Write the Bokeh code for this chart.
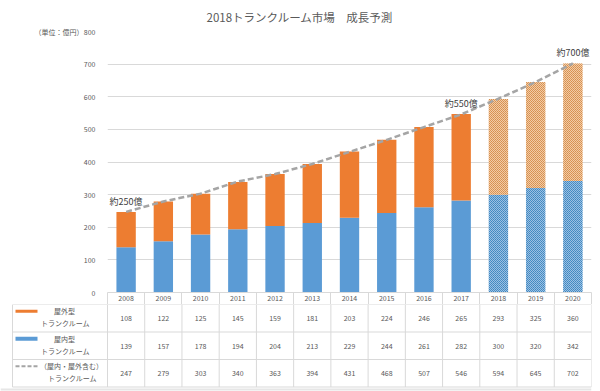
from bokeh.plotting import figure
from bokeh.models import Range1d, FixedTicker, LinearAxis, ColumnDataSource
from bokeh.layouts import column
from bokeh.embed import file_html
from bokeh.resources import INLINE
from bokeh.core.properties import value

# ---------------- data ----------------
years = ["2008", "2009", "2010", "2011", "2012", "2013", "2014",
         "2015", "2016", "2017", "2018", "2019", "2020"]
outdoor = [108, 122, 125, 145, 159, 181, 203, 224, 246, 265, 293, 325, 360]
indoor = [139, 157, 178, 194, 204, 213, 229, 244, 261, 282, 300, 320, 342]
total = [247, 279, 303, 340, 363, 394, 431, 468, 507, 546, 594, 645, 702]
first_forecast_year = "2018"
y_ticks = [0, 100, 200, 300, 400, 500, 600, 700, 800]
callout_years = ["2008", "2017", "2020"]
callout_texts = ["約250億", "約550億", "約700億"]
row_label_line1 = ["屋外型", "屋内型", "（屋内・屋外含む）"]
row_label_line2 = ["トランクルーム", "トランクルーム", "トランクルーム"]
title_text = "2018トランクルーム市場　成長予測"
unit_text = "（単位：億円）"

# ---------------- style ----------------
FONT = "Noto Sans CJK JP"
TXT = "#595959"
GRID = "#D9D9D9"
ORANGE = "#ED7D31"
BLUE = "#5B9BD5"

n = len(years)
xs = list(range(n))
stack_top = [a + b for a, b in zip(indoor, outdoor)]
fc = [y >= first_forecast_year for y in years]

ORIGIN = 0                     # page offset of the figures
FIG_W = 592
PX_L, PX_R = 107, 591          # chart frame in page px
UNIT = (PX_R - PX_L) / n       # px per category
BL = PX_L - ORIGIN
BR = FIG_W - (PX_R - ORIGIN)

def sub(lst, flag):
    return [v for v, f in zip(lst, fc) if f == flag]

src_a = ColumnDataSource(dict(x=sub(xs, False), ind=sub(indoor, False), top=sub(stack_top, False)))
src_f = ColumnDataSource(dict(x=sub(xs, True), ind=sub(indoor, True), top=sub(stack_top, True)))

p = figure(width=FIG_W, height=304, x_range=Range1d(-0.5, n - 0.5), y_range=Range1d(0, 800),
           min_border_left=BL, min_border_right=BR, min_border_top=31, min_border_bottom=12,
           output_backend="svg", toolbar_location=None, title=title_text)
p.frame_align = False
p.outline_line_color = None
p.xgrid.visible = False
p.ygrid.grid_line_color = GRID
p.ygrid.ticker = FixedTicker(ticks=y_ticks)

p.title.align = "left"
p.title.offset = 206 - PX_L
p.title.text_font = FONT
p.title.text_font_size = "11.5px"
p.title.text_font_style = "normal"
p.title.text_color = TXT
p.title.standoff = 13

ya = p.yaxis[0]
ya.ticker = FixedTicker(ticks=y_ticks)
ya.axis_line_color = None
ya.major_tick_line_color = None
ya.minor_tick_line_color = None
ya.major_label_text_font = FONT
ya.major_label_text_font_size = "7px"
ya.major_label_text_color = TXT
ya.major_label_standoff = 6

ua = LinearAxis(ticker=FixedTicker(ticks=[y_ticks[-1]]),
                major_label_overrides={y_ticks[-1]: unit_text})
ua.axis_line_color = None
ua.major_tick_line_color = None
ua.minor_tick_line_color = None
ua.major_label_text_font = FONT
ua.major_label_text_font_size = "7px"
ua.major_label_text_color = TXT
ua.major_label_standoff = -9
p.add_layout(ua, "left")

xa = p.xaxis[0]
xa.ticker = FixedTicker(ticks=xs, minor_ticks=[x - 0.5 for x in xs] + [n - 0.5])
xa.major_label_overrides = {i: y for i, y in enumerate(years)}
xa.major_tick_out = 0
xa.major_tick_in = 0
xa.minor_tick_in = 0
xa.minor_tick_out = 12
xa.minor_tick_line_color = GRID
xa.axis_line_color = GRID
xa.major_label_text_font = FONT
xa.major_label_text_font_size = "7px"
xa.major_label_text_color = TXT
xa.major_label_standoff = -10

BW = 0.52
p.vbar(x="x", width=BW, bottom=0, top="ind", source=src_a, fill_color=BLUE, line_color=None)
p.vbar(x="x", width=BW, bottom="ind", top="top", source=src_a, fill_color=ORANGE, line_color=None)
p.vbar(x="x", width=BW, bottom=0, top="ind", source=src_f, fill_color="#9CC0E4", line_color=None,
       hatch_pattern="diagonal_cross", hatch_color="#3F88BF", hatch_scale=2, hatch_weight=1)
p.vbar(x="x", width=BW, bottom="ind", top="top", source=src_f, fill_color="#F2CCA6", line_color=None,
       hatch_pattern="diagonal_cross", hatch_color="#D68E4E", hatch_scale=2, hatch_weight=1)

p.line(xs, total, line_color="#A5A5A5", line_width=2.5, line_dash="6 3")

cx = [years.index(y) for y in callout_years]
cy = [total[i] for i in cx]
p.text(x=cx, y=cy, text=callout_texts, text_align="center", text_baseline="bottom", y_offset=-4,
       text_font=value(FONT), text_font_size="9px", text_color="#404040")

# ---------------- data table ----------------
ROW = 27.5
T_H = 87
tx0 = -0.5 - (PX_L - ORIGIN) / UNIT
lab_left = -0.5 - (PX_L - 12) / UNIT
ybot = -(T_H - 3 * ROW) / ROW
t = figure(width=FIG_W, height=T_H, x_range=Range1d(tx0, n - 0.5), y_range=Range1d(ybot, 3),
           min_border_left=0, min_border_right=BR, min_border_top=0, min_border_bottom=0,
           x_axis_location=None, y_axis_location=None,
           output_backend="svg", toolbar_location=None)
t.frame_align = False
t.outline_line_color = None
t.xgrid.visible = False
t.ygrid.visible = False

# grid lines
t.segment(x0=[lab_left] * 4, y0=[3, 2, 1, 0], x1=[n - 0.5] * 4, y1=[3, 2, 1, 0],
          line_color=GRID, line_width=1)
vx = [lab_left] + [x - 0.5 for x in xs] + [n - 0.5]
t.segment(x0=vx, y0=[0] * len(vx), x1=vx, y1=[3] * len(vx), line_color=GRID, line_width=1)
t.segment(x0=[tx0], y0=[-2.5 / ROW], x1=[n - 0.5], y1=[-2.5 / ROW], line_color="#E6E6E6", line_width=2)

rows = [outdoor, indoor, total]
cell_x, cell_y, cell_t = [], [], []
for r, vals in enumerate(rows):
    for i, v in enumerate(vals):
        cell_x.append(i)
        cell_y.append(2.5 - r)
        cell_t.append(str(v))
t.text(x=cell_x, y=cell_y, text=cell_t, text_align="center", text_baseline="middle",
       text_font=value(FONT), text_font_size="7px", text_color=TXT)

# row labels
l1x = [-0.5 - (PX_L - 64) / UNIT, -0.5 - (PX_L - 64) / UNIT, -0.5 - (PX_L - 71) / UNIT]
l2x = [-0.5 - (PX_L - 65) / UNIT, -0.5 - (PX_L - 65) / UNIT, -0.5 - (PX_L - 72) / UNIT]
l1y = [3 - r - 6.8 / ROW for r in range(3)]
l2y = [3 - r - 18.8 / ROW for r in range(3)]
t.text(x=l1x, y=l1y, text=row_label_line1, text_align="center", text_baseline="middle",
       text_font=value(FONT), text_font_size="7px", text_color=TXT)
t.text(x=l2x, y=l2y, text=row_label_line2, text_align="center", text_baseline="middle",
       text_font=value(FONT), text_font_size="7px", text_color=TXT)

# legend swatches
sw0 = -0.5 - (PX_L - 15) / UNIT
sw1 = -0.5 - (PX_L - 37) / UNIT
t.segment(x0=[sw0], y0=[l1y[0]], x1=[sw1], y1=[l1y[0]], line_color=ORANGE, line_width=3)
t.segment(x0=[sw0], y0=[l1y[1]], x1=[sw1], y1=[l1y[1]], line_color=BLUE, line_width=4)
t.segment(x0=[sw0], y0=[l1y[2]], x1=[sw1], y1=[l1y[2]], line_color="#A5A5A5", line_width=2,
          line_dash="4 2")

layout = column(p, t)
open("out.html", "w").write(file_html(layout, INLINE))
